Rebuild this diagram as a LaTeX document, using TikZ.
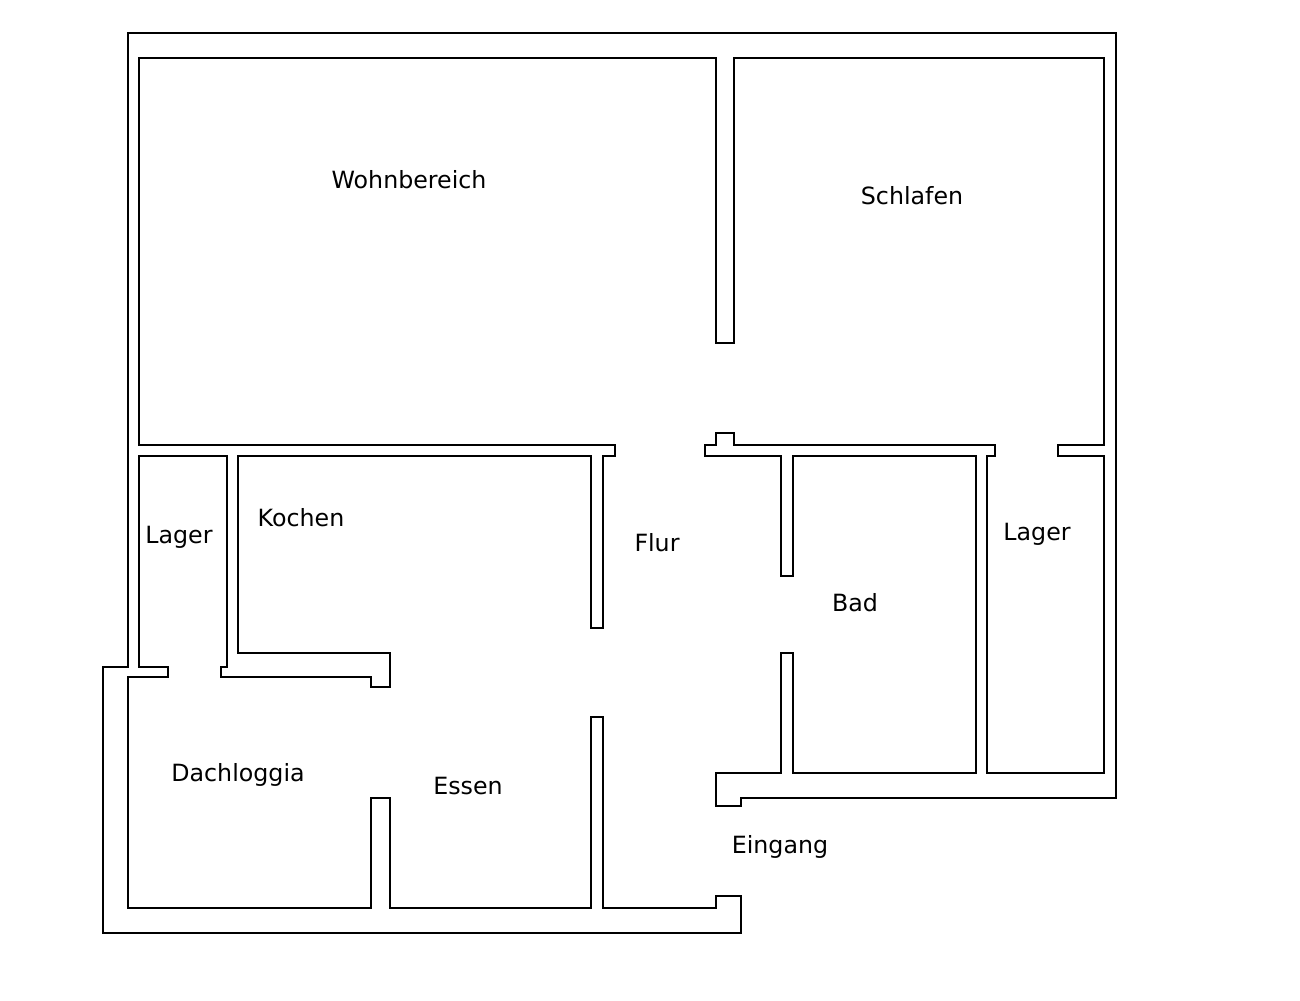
\documentclass[tikz,border=0pt]{standalone}
\usepackage{fontspec}
\setmainfont{DejaVu Sans}
\usetikzlibrary{positioning}

\begin{document}
\begin{tikzpicture}[
  x=0.02cm, y=-0.02cm,
  wall/.style={draw=black, line width=0.8pt, line join=miter},
  room/.style={font=\fontsize{13.5}{16}\selectfont, inner sep=0pt}
]
  \useasboundingbox (0,0) rectangle (1300,1000);

  % outer wall, left and bottom wing
  \draw[wall] (1116,798) -- (1116,33) -- (128,33) -- (128,667) -- (103,667)
    -- (103,933) -- (741,933) -- (741,896) -- (716,896) -- (716,908)
    -- (603,908) -- (603,717) -- (591,717) -- (591,908) -- (390,908)
    -- (390,798) -- (371,798) -- (371,908) -- (128,908) -- (128,677)
    -- (168,677) -- (168,667) -- (139,667) -- (139,456) -- (227,456)
    -- (227,667) -- (221,667) -- (221,677) -- (371,677) -- (371,687)
    -- (390,687) -- (390,653) -- (238,653) -- (238,456) -- (591,456)
    -- (591,628) -- (603,628) -- (603,456) -- (615,456) -- (615,445)
    -- (139,445) -- (139,58) -- (716,58) -- (716,343) -- (734,343)
    -- (734,58) -- (1104,58) -- (1104,445) -- (1058,445) -- (1058,456)
    -- (1104,456) -- (1104,773) -- (987,773) -- (987,456) -- (995,456)
    -- (995,445) -- (734,445) -- (734,433) -- (716,433) -- (716,445)
    -- (705,445) -- (705,456) -- (781,456) -- (781,576) -- (793,576)
    -- (793,456) -- (976,456) -- (976,773) -- (793,773) -- (793,653)
    -- (781,653) -- (781,773) -- (716,773) -- (716,806) -- (741,806)
    -- (741,798) -- cycle;

  % room names
  \node[room] (wohn)  at (409,180) {Wohnbereich};
  \node[room] (schl)  at (912,196) {Schlafen};
  \node[room] (lagl)  at (179,537) {Lager};
  \node[room] (koch)  at (301,518) {Kochen};
  \node[room] (flur)  at (657,543) {Flur};
  \node[room] (bad)   at (855,603) {Bad};
  \node[room] (lagr)  at (1037,534) {Lager};
  \node[room] (dach)  at (238,775) {Dachloggia};
  \node[room] (essen) at (468,786) {Essen};
  \node[room] (eing)  at (780,847) {Eingang};
\end{tikzpicture}
\end{document}
